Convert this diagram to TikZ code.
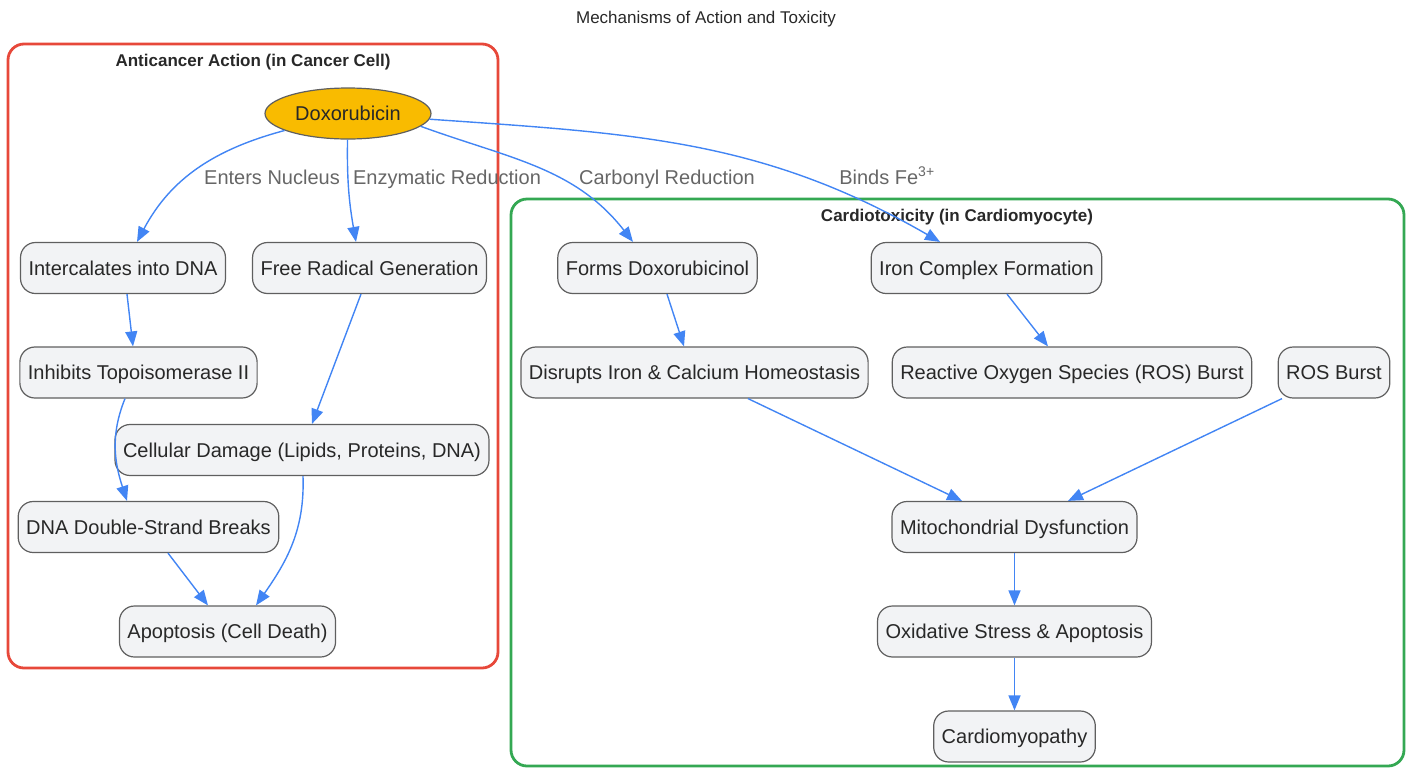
\documentclass[tikz,border=0pt]{standalone}
\usepackage{fontspec}
\setmainfont{Liberation Sans}
\usetikzlibrary{arrows.meta,shapes.geometric}
\definecolor{cellred}{RGB}{231,72,58}
\definecolor{cardgreen}{RGB}{52,168,83}
\definecolor{flow}{RGB}{66,133,244}
\definecolor{drugfill}{RGB}{249,187,0}
\definecolor{boxfill}{RGB}{242,243,245}
\definecolor{boxline}{RGB}{95,95,95}
\definecolor{lblgray}{RGB}{102,102,102}
\definecolor{ink}{RGB}{40,40,40}
\begin{document}
\begin{tikzpicture}[x=1pt, y=1pt,
        box/.style={rectangle, rounded corners=15pt, draw=boxline, line width=1.2pt, fill=boxfill, text=ink,
            font=\fontsize{20}{24}\selectfont, minimum height=51pt, inner xsep=8pt,
            text height=18.5pt, text depth=4.2pt},
        drug/.style={ellipse, draw=boxline, line width=1.2pt, fill=drugfill, text=ink,
            font=\fontsize{20}{24}\selectfont, minimum width=166pt, minimum height=51pt,
            text height=18.5pt, text depth=4.2pt, inner sep=0pt},
        lbl/.style={text=lblgray, font=\fontsize{20}{24}\selectfont, text height=18.5pt, text depth=4.2pt},
        head/.style={text=ink, font=\fontsize{17}{20}\selectfont\bfseries, text height=15.7pt, text depth=3.5pt},
        arr/.style={flow, line width=1.4pt, -{Triangle[length=15pt,width=12pt]}}]
        \useasboundingbox (0,0) rectangle (1411,-769);

        \node[text=ink, font=\fontsize{17}{20}\selectfont, text height=15.7pt, text depth=3.5pt] (title) at (706,-17) {Mechanisms of Action and Toxicity};

        % clusters
        \draw[cellred, line width=2.8pt, rounded corners=16pt] (8,-44) rectangle (498,-668);
        \draw[cardgreen, line width=2.8pt, rounded corners=16pt] (511,-199) rectangle (1404,-766);
        \node[style=head] (cancer) at (253,-60) {Anticancer Action (in Cancer Cell)};
        \node[style=head] (cardio) at (957,-215) {Cardiotoxicity (in Cardiomyocyte)};

        % anticancer side
        \node[style=drug] (dox) at (348,-113.5) {Doxorubicin};
        \node[style=box] (intc) at (123,-268) {Intercalates into DNA};
        \node[style=box] (frg) at (369.5,-268) {Free Radical Generation};
        \node[style=box] (inh) at (138.5,-372.5) {Inhibits Topoisomerase II};
        \node[style=box] (cd) at (302,-450) {Cellular Damage (Lipids, Proteins, DNA)};
        \node[style=box] (dsb) at (148.5,-527) {DNA Double-Strand Breaks};
        \node[style=box] (apo) at (227.5,-631.5) {Apoptosis (Cell Death)};

        % cardiotoxicity side
        \node[style=box] (doxol) at (657.5,-268) {Forms Doxorubicinol};
        \node[style=box] (iron) at (986.5,-268) {Iron Complex Formation};
        \node[style=box] (dis) at (694.5,-372.5) {Disrupts Iron \& Calcium Homeostasis};
        \node[style=box] (ros) at (1072,-372.5) {Reactive Oxygen Species (ROS) Burst};
        \node[style=box] (rosb) at (1334,-372.5) {ROS Burst};
        \node[style=box] (mito) at (1014.5,-527) {Mitochondrial Dysfunction};
        \node[style=box] (oxs) at (1014.5,-631.5) {Oxidative Stress \& Apoptosis};
        \node[style=box] (cmp) at (1014.5,-736.5) {Cardiomyopathy};

        % edge labels
        \node[style=lbl] (l1) at (272,-177) {Enters Nucleus};
        \node[style=lbl] (l2) at (447,-177) {Enzymatic Reduction};
        \node[style=lbl] (l3) at (667,-177) {Carbonyl Reduction};
        \node[style=lbl] (l4) at (887,-177) {Binds Fe\textsuperscript{3+}};

        \path[arr]
            (dox) edge [out=195, in=62] ([xshift=14pt]intc.north)
            (dox) edge [out=-91, in=100] ([xshift=-13.5pt]frg.north)
            (dox.-10) edge [out=-20, in=128] ([xshift=-24.5pt]doxol.north)
            (dox) edge [out=-4, in=150] ([xshift=-46.5pt]iron.north)
            ([xshift=4pt]intc.south) edge ([xshift=-5.5pt]inh.north)
            ([xshift=-13.5pt]inh.south) edge [out=-112, in=108] ([xshift=-21.5pt]dsb.north)
            ([xshift=-8.5pt]frg.south) edge ([xshift=10pt]cd.north)
            ([xshift=1pt]cd.south) edge [out=-88, in=55] ([xshift=28.5pt]apo.north)
            ([xshift=19.5pt]dsb.south) edge ([xshift=-19.5pt]apo.north)
            ([xshift=9.5pt]doxol.south) edge ([xshift=-10.5pt]dis.north)
            ([xshift=20.5pt]iron.south) edge ([xshift=-24pt]ros.north)
            ([xshift=53.5pt]dis.south) edge ([xshift=-52.5pt]mito.north)
            ([xshift=-52pt]rosb.south) edge ([xshift=53.5pt]mito.north)
            (mito) edge (oxs)
            (oxs) edge (cmp)
        ;
    \end{tikzpicture}
\end{document}
